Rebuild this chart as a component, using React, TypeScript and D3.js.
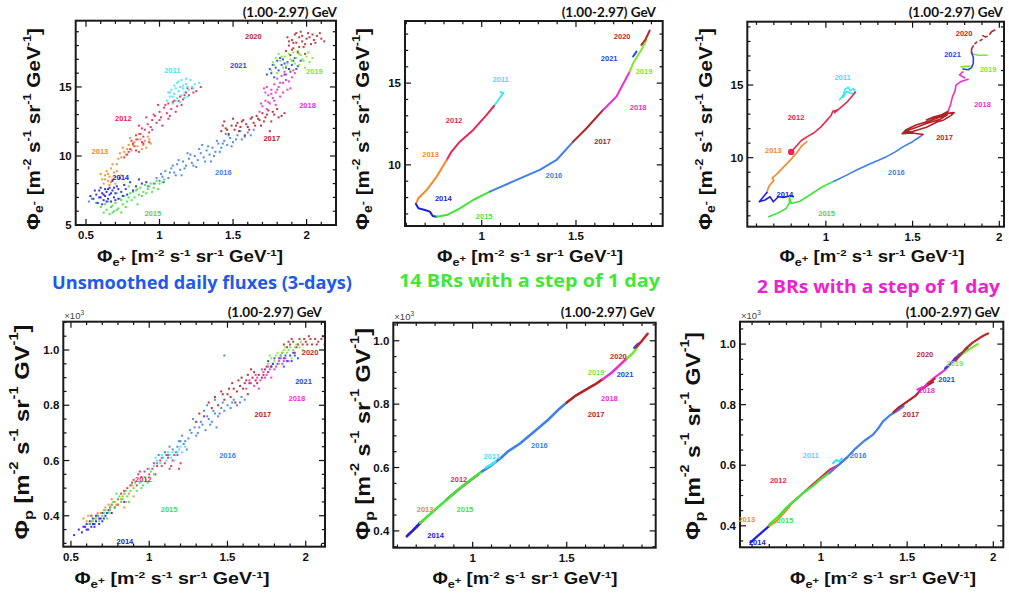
import React from 'react';
import * as d3 from 'd3';

type Pt = [number, number];

const YEARS = ['2011', '2012', '2013', '2014', '2015', '2016', '2017', '2018', '2019', '2020', '2021'];
const YEAR_COLORS: Record<string, string> = {
  '2011': '#3ee6f2',
  '2012': '#e8264f',
  '2013': '#f5892b',
  '2014': '#2020e0',
  '2015': '#3fe53a',
  '2016': '#3f80ea',
  '2017': '#b22128',
  '2018': '#ec2fd2',
  '2019': '#7ce82c',
  '2020': '#b52b30',
  '2021': '#2547e0',
};

const ENERGY_TITLE = '(1.00-2.97) GeV';
const CAPTIONS = ['Unsmoothed daily fluxes (3-days)', '14 BRs with a step of 1 day', '2 BRs with a step of 1 day'];
const CAPTION_COLORS = ['#2159ec', '#3fe83a', '#ec22cc'];

// ---------- tick values ----------
const xTicksA = [0.5, 1, 1.5, 2];
const xTicksB = [1, 1.5];
const xTicksC = [1, 1.5, 2];
const yTicksEm1 = [5, 10, 15];
const yTicksEm = [10, 15];
const yTicksP = [0.4, 0.6, 0.8, 1.0];

// ---------- Panel 1: e- vs e+ daily scatter ----------
const scatterEm: Record<string, Pt[]> = {
  '2013': [[0.62,8.0],[0.63,8.6],[0.64,8.9],[0.65,8.2],[0.66,8.5],[0.67,9.1],[0.68,8.3],[0.69,8.8],[0.70,8.0],[0.71,9.4],[0.72,9.8],[0.73,10.2],[0.75,10.6],[0.77,10.1],[0.79,10.8],[0.81,10.4],[0.83,11.0],[0.85,10.7],[0.87,11.2],[0.88,10.5],[0.90,11.1],[0.92,11.4],[0.86,11.6],[0.94,10.9],[0.60,8.7],[0.66,7.9],[0.74,8.6],[0.80,11.3],[0.61,8.3],[0.68,9.4],
    [0.63,8.3],[0.65,8.7],[0.67,8.1],[0.70,8.5],[0.71,8.9],[0.74,9.9],[0.76,10.3],[0.78,10.5],[0.82,10.8],[0.84,11.2],[0.89,10.8],[0.91,10.6],[0.93,11.2]],
  '2012': [[0.78,10.1],[0.80,10.5],[0.82,10.9],[0.84,10.4],[0.85,11.2],[0.87,11.6],[0.88,11.0],[0.90,11.9],[0.92,12.3],[0.93,11.7],[0.95,12.6],[0.96,13.0],[0.98,12.4],[1.00,13.2],[1.01,12.8],[1.03,13.5],[1.05,13.1],[1.06,13.8],[1.08,13.4],[1.10,14.0],[1.12,13.6],[1.14,14.3],[1.16,14.1],[1.18,14.6],[1.20,14.4],[1.22,14.9],[1.25,14.7],[0.91,12.8],[0.99,13.7],[0.86,12.2],[1.02,12.2],[1.07,12.9],[0.76,9.9],[0.79,10.3],[0.83,10.7],[0.86,10.3],[0.89,10.9],[0.93,11.0],
    [0.81,11.1],[0.84,11.5],[0.89,11.4],[0.94,12.1],[0.97,12.9],[1.00,12.6],[1.04,13.7],[1.06,12.7],[1.09,13.9],[1.11,13.2],[1.13,14.0],[1.15,13.7],[1.17,14.4],[1.19,14.9],[1.23,14.6],[1.28,15.0],[0.88,12.0],[0.95,11.9]],
  '2011': [[1.05,14.0],[1.07,14.3],[1.08,14.8],[1.10,15.1],[1.10,14.5],[1.12,14.2],[1.12,15.3],[1.13,14.7],[1.14,15.0],[1.15,14.4],[1.15,15.5],[1.16,14.9],[1.17,14.6],[1.18,15.2],[1.19,14.3],[1.20,14.8],[1.21,15.5],[1.22,15.0],[1.24,15.2],[1.27,15.3],[1.09,13.8],[1.11,14.0],[1.14,13.9],[1.06,14.6],[1.18,15.6],
    [1.07,14.6],[1.09,14.3],[1.11,14.9],[1.13,15.4],[1.16,15.1],[1.19,15.0],[1.23,14.9],[1.17,14.2]],
  '2015': [[0.62,5.9],[0.64,6.1],[0.66,5.8],[0.67,6.3],[0.69,6.0],[0.70,6.6],[0.72,6.2],[0.73,6.9],[0.75,6.5],[0.76,7.1],[0.78,6.7],[0.80,7.3],[0.81,6.8],[0.83,7.0],[0.84,7.5],[0.86,7.2],[0.87,7.7],[0.89,7.4],[0.90,7.9],[0.92,7.6],[0.94,8.0],[0.96,7.7],[0.98,8.2],[1.00,8.0],[1.03,8.3],[0.71,7.3],[0.79,7.8],[0.85,6.5],[0.65,6.7],[0.74,5.9],[0.60,6.3],
    [0.63,6.5],[0.68,6.4],[0.71,6.1],[0.74,6.8],[0.77,6.3],[0.79,7.0],[0.82,7.4],[0.85,7.6],[0.88,7.1],[0.91,7.3],[0.93,7.8],[0.95,7.4],[0.97,8.0],[0.99,7.6],[1.02,8.1],[0.68,5.9]],
  '2014': [[0.55,6.9],[0.57,7.2],[0.58,6.6],[0.59,7.5],[0.60,7.0],[0.61,7.3],[0.62,6.8],[0.63,7.6],[0.63,7.1],[0.64,7.4],[0.65,6.9],[0.66,7.7],[0.66,7.2],[0.67,6.7],[0.68,7.5],[0.69,7.0],[0.70,7.3],[0.71,7.8],[0.72,6.9],[0.74,7.4],[0.76,7.9],[0.78,7.2],[0.80,8.1],[0.84,7.8],[0.88,8.0],[0.61,6.5],[0.68,8.2],[0.73,8.4],
    [0.56,7.5],[0.59,7.0],[0.60,7.7],[0.62,7.2],[0.64,6.7],[0.65,7.6],[0.67,7.3],[0.69,7.7],[0.70,6.8],[0.72,7.6],[0.75,7.1],[0.77,7.6],[0.82,7.5],[0.86,8.3],[0.91,8.1],[0.53,7.1]],
  '2016': [[0.52,6.7],[0.54,6.9],[0.57,6.6],[1.00,8.2],[1.02,8.5],[1.04,8.9],[1.06,8.4],[1.08,9.1],[1.10,8.8],[1.12,9.4],[1.14,9.0],[1.16,9.6],[1.18,9.3],[1.20,9.8],[1.22,9.5],[1.24,10.0],[1.26,9.7],[1.28,10.2],[1.30,9.9],[1.32,10.4],[1.34,10.1],[1.36,10.6],[1.38,10.3],[1.40,10.9],[1.42,10.6],[1.44,11.1],[1.46,10.8],[1.48,11.3],[1.50,11.0],[1.53,11.5],[1.56,11.2],[1.60,11.7],[1.64,11.9],[1.19,10.2],[1.25,9.2],[1.35,9.6],[1.29,10.8],[1.15,8.6],[1.45,11.6],[1.55,11.8],
    [1.01,8.7],[1.03,8.1],[1.07,8.8],[1.09,9.3],[1.11,8.6],[1.13,9.7],[1.17,9.1],[1.21,10.1],[1.23,9.3],[1.27,10.5],[1.31,9.6],[1.33,10.7],[1.37,10.0],[1.39,11.1],[1.41,10.3],[1.43,10.9],[1.47,11.5],[1.49,10.7],[1.52,11.2],[1.58,11.4],[0.96,8.0],[0.92,7.8],[1.62,11.5],[0.98,8.4]],
  '2017': [[1.42,11.8],[1.45,12.0],[1.47,11.6],[1.49,12.2],[1.51,11.9],[1.53,12.4],[1.55,12.1],[1.57,12.6],[1.59,12.3],[1.61,11.9],[1.62,12.7],[1.64,12.4],[1.66,12.9],[1.68,12.6],[1.70,13.1],[1.72,12.8],[1.74,13.3],[1.76,12.5],[1.78,13.0],[1.80,13.4],[1.83,12.9],[1.50,12.7],[1.58,11.5],[1.69,12.2],[1.44,12.5],[1.75,11.8],
    [1.43,12.2],[1.46,11.9],[1.52,12.2],[1.56,12.5],[1.60,12.1],[1.63,12.8],[1.65,12.2],[1.67,12.7],[1.71,12.5],[1.73,13.0],[1.77,13.2],[1.81,12.8],[1.85,13.1],[1.54,11.8]],
  '2018': [[1.68,13.2],[1.70,13.6],[1.72,14.0],[1.73,13.4],[1.74,14.4],[1.75,13.8],[1.76,14.8],[1.77,14.2],[1.78,15.2],[1.79,14.6],[1.80,15.6],[1.81,15.0],[1.82,14.3],[1.83,15.8],[1.84,15.3],[1.85,16.1],[1.86,15.5],[1.87,14.8],[1.88,16.3],[1.90,15.7],[1.92,16.0],[1.71,14.9],[1.79,13.7],[1.89,14.9],
    [1.69,13.8],[1.72,14.6],[1.74,13.9],[1.76,14.5],[1.78,14.0],[1.80,14.8],[1.82,15.3],[1.84,14.6],[1.86,15.9],[1.88,15.4],[1.91,16.2],[1.73,15.0]],
  '2021': [[1.73,15.9],[1.75,16.3],[1.77,16.6],[1.78,15.7],[1.80,16.9],[1.81,16.2],[1.83,16.6],[1.84,17.0],[1.85,15.9],[1.86,16.4],[1.87,16.8],[1.89,16.1],[1.90,16.6],[1.92,17.1],[1.94,16.5],[1.96,16.9],
    [1.76,16.0],[1.79,16.4],[1.82,17.1],[1.85,16.7],[1.88,16.3],[1.91,16.9],[1.93,16.3]],
  '2019': [[1.76,16.2],[1.78,16.6],[1.80,16.0],[1.82,16.9],[1.84,16.4],[1.85,17.2],[1.87,16.7],[1.88,17.4],[1.90,16.9],[1.91,17.5],[1.93,17.1],[1.95,16.6],[1.96,17.3],[1.98,16.9],[2.00,17.2],[2.02,16.8],[1.81,17.4],[1.89,16.2],[1.94,17.6],[1.99,16.4],
    [1.77,16.8],[1.79,17.1],[1.83,17.2],[1.86,16.5],[1.89,17.0],[1.92,16.7],[1.95,17.4],[1.97,17.0],[2.01,17.5],[2.04,17.1]],
  '2020': [[1.86,17.6],[1.88,18.0],[1.89,17.3],[1.90,18.4],[1.91,17.8],[1.92,18.8],[1.93,18.2],[1.94,17.5],[1.95,18.6],[1.96,19.0],[1.97,18.3],[1.98,17.9],[2.00,18.5],[2.01,18.9],[2.03,18.1],[2.05,18.4],[2.07,18.7],[2.10,18.5],[2.12,18.3],[1.87,18.6],[1.99,17.4],
    [1.88,18.3],[1.91,18.2],[1.93,18.9],[1.95,17.9],[1.97,18.7],[1.99,18.1],[2.02,18.6],[2.04,18.8],[2.06,18.2],[2.09,18.9],[1.90,17.7]],
};

// ---------- Panel 2: e- vs e+ 14 BRs ----------
const linesEm14: Record<string, Pt[][]> = {
  '2011': [[[1.10,14.45],[1.115,14.4],[1.09,14.0],[1.065,13.6]]],
  '2012': [[[1.065,13.6],[1.026,13.06],[0.955,12.14],[0.884,11.42],[0.84,10.81],[0.814,10.3]]],
  '2013': [[[0.814,10.3],[0.761,9.28],[0.708,8.46],[0.664,7.96],[0.651,7.61]]],
  '2014': [[[0.651,7.61],[0.664,7.34],[0.699,7.24],[0.725,7.14],[0.74,6.87],[0.761,6.83]]],
  '2015': [[[0.761,6.83],[0.814,6.93],[0.884,7.34],[0.955,7.85],[1.043,8.36]]],
  '2016': [[[1.043,8.36],[1.185,9.08],[1.308,9.69],[1.397,10.3],[1.485,11.42]]],
  '2017': [[[1.485,11.42],[1.556,12.24],[1.644,13.36]]],
  '2018': [[[1.644,13.36],[1.715,14.18],[1.785,15.71]]],
  '2019': [[[1.785,15.71],[1.803,16.22],[1.847,17.04],[1.874,17.65]]],
  '2020': [[[1.847,17.34],[1.87,17.7],[1.891,18.22]]],
  '2021': [[[1.803,16.63],[1.821,16.93]]],
};

// ---------- Panel 3: e- vs e+ 2 BRs ----------
const linesEm2: Record<string, Pt[][]> = {
  '2011': [[[1.08,14.0],[1.10,14.3],[1.11,14.7],[1.13,14.85],[1.14,14.6],[1.16,14.75],[1.17,14.5],[1.15,14.4],[1.12,14.55],[1.10,14.15]]],
  '2012': [[[1.17,14.5],[1.12,13.8],[1.08,13.4],[1.05,13.1],[1.07,13.3],[1.04,13.2],[1.03,12.9],[1.00,12.5],[0.97,12.1],[0.93,11.7],[0.90,11.5],[0.86,11.2],[0.83,10.8],[0.80,10.4]]],
  '2013': [[[0.89,11.1],[0.86,10.8],[0.83,10.3],[0.80,9.9],[0.76,9.4],[0.72,8.9],[0.69,8.6],[0.70,8.45],[0.67,8.0],[0.66,7.6]]],
  '2014': [[[0.66,7.6],[0.616,6.97],[0.649,7.09],[0.678,7.31],[0.697,6.97],[0.726,7.31],[0.755,7.27],[0.793,7.36],[0.812,7.32]]],
  '2015': [[[0.67,5.94],[0.72,6.17],[0.77,6.5],[0.79,6.9],[0.79,7.3],[0.80,6.85],[0.85,7.0],[0.91,7.45],[0.98,8.0],[1.05,8.4]]],
  '2016': [[[1.05,8.4],[1.12,8.8],[1.177,9.15],[1.24,9.5],[1.292,9.77],[1.30,9.8],[1.35,10.07],[1.40,10.4],[1.446,10.76],[1.50,11.1],[1.542,11.44],[1.56,11.6]]],
  '2017': [[[1.56,11.6],[1.50,11.7],[1.44,11.65],[1.46,11.9],[1.52,12.25],[1.60,12.55],[1.66,12.8],[1.70,12.95],[1.66,12.65],[1.58,12.35],[1.50,12.0],[1.45,11.75],[1.50,11.8],[1.58,12.1],[1.64,12.45],[1.68,12.6],[1.72,12.9],[1.74,13.1],[1.70,13.05],[1.62,12.8],[1.58,12.6],[1.66,12.9],[1.705,13.2]]],
  '2018': [[[1.705,13.2],[1.72,13.7],[1.73,14.2],[1.745,14.6],[1.75,15.0],[1.78,15.25],[1.82,15.4]],[[1.80,15.5],[1.77,15.7],[1.79,15.9]]],
  '2019': [[[1.78,16.25],[1.83,16.3]],[[1.84,17.15],[1.88,17.05],[1.93,17.05]]],
  '2021': [[[1.84,17.25],[1.85,16.9],[1.85,16.5],[1.84,16.2],[1.82,16.05],[1.79,16.1]]],
  '2020': [[[1.84,17.2],[1.84,17.5],[1.85,17.7]],[[1.86,17.85],[1.87,17.95]],[[1.89,18.05],[1.90,18.15]],[[1.905,18.4],[1.92,18.3],[1.93,18.35]],[[1.945,18.5],[1.955,18.67],[1.974,18.79]]],
};

// ---------- Panel 4: p vs e+ daily scatter (x10^3) ----------
const scatterP: Record<string, Pt[]> = {
  '2014': [[0.52,0.33],[0.55,0.35],[0.58,0.36],[0.60,0.37],[0.61,0.35],[0.62,0.38],[0.63,0.36],[0.64,0.39],[0.65,0.37],[0.66,0.38],[0.67,0.40],[0.68,0.37],[0.69,0.39],[0.70,0.41],[0.72,0.40],[0.74,0.42],[0.76,0.41],[0.78,0.43],[0.80,0.44],[0.84,0.45],[0.63,0.40],[0.70,0.38],[0.57,0.34],
    [0.59,0.36],[0.62,0.37],[0.64,0.37],[0.66,0.40],[0.68,0.39],[0.71,0.39],[0.73,0.41],[0.75,0.43],[0.60,0.35],[0.65,0.36]],
  '2013': [[0.58,0.39],[0.60,0.38],[0.63,0.40],[0.66,0.39],[0.69,0.41],[0.72,0.43],[0.75,0.42],[0.78,0.45],[0.80,0.44],[0.82,0.46],[0.85,0.45],[0.87,0.48],[0.90,0.47],[0.76,0.46],[0.84,0.43],
    [0.61,0.40],[0.64,0.38],[0.67,0.41],[0.71,0.42],[0.74,0.44],[0.79,0.44],[0.83,0.47]],
  '2012': [[0.76,0.44],[0.80,0.46],[0.84,0.49],[0.88,0.51],[0.90,0.53],[0.92,0.51],[0.95,0.54],[0.97,0.56],[1.00,0.55],[1.02,0.57],[1.05,0.58],[1.07,0.60],[1.10,0.59],[1.12,0.61],[1.15,0.60],[1.18,0.62],[1.20,0.59],[0.93,0.55],[1.04,0.55],[1.13,0.57],
    [0.82,0.48],[0.86,0.50],[0.89,0.52],[0.94,0.56],[0.99,0.57],[1.03,0.59],[1.08,0.58],[1.11,0.62],[1.16,0.62],[1.14,0.58],[1.19,0.57]],
  '2015': [[0.62,0.37],[0.65,0.39],[0.68,0.38],[0.70,0.40],[0.72,0.42],[0.74,0.41],[0.76,0.44],[0.78,0.43],[0.80,0.46],[0.82,0.45],[0.84,0.48],[0.86,0.47],[0.88,0.49],[0.90,0.50],[0.92,0.49],[0.94,0.52],[0.96,0.51],[0.98,0.53],[1.00,0.54],[1.03,0.55],[0.79,0.48],[0.87,0.45],[0.73,0.39],
    [0.63,0.38],[0.67,0.40],[0.71,0.41],[0.75,0.43],[0.77,0.45],[0.81,0.47],[0.83,0.46],[0.85,0.49],[0.89,0.51],[0.91,0.52],[0.95,0.50],[0.97,0.54],[0.99,0.52],[1.01,0.56]],
  '2011': [[1.00,0.57],[1.03,0.58],[1.05,0.60],[1.07,0.59],[1.09,0.61],[1.11,0.60],[1.13,0.62],[1.15,0.63],[1.17,0.62],[1.19,0.64],[1.21,0.63],[1.23,0.65],[1.10,0.63],[1.16,0.60],
    [1.04,0.61],[1.08,0.62],[1.12,0.63],[1.14,0.61],[1.18,0.63],[1.20,0.65]],
  '2016': [[1.05,0.59],[1.08,0.61],[1.12,0.62],[1.15,0.64],[1.18,0.65],[1.20,0.67],[1.22,0.66],[1.25,0.68],[1.27,0.70],[1.30,0.69],[1.32,0.72],[1.34,0.73],[1.36,0.71],[1.38,0.75],[1.40,0.74],[1.42,0.77],[1.44,0.76],[1.46,0.79],[1.48,0.78],[1.50,0.80],[1.53,0.81],[1.56,0.80],[1.59,0.83],[1.61,0.82],[1.48,0.98],[1.28,0.75],[1.35,0.78],[1.24,0.64],[1.43,0.72],
    [1.06,0.62],[1.10,0.63],[1.13,0.65],[1.17,0.63],[1.19,0.67],[1.21,0.69],[1.23,0.67],[1.26,0.71],[1.29,0.72],[1.31,0.70],[1.33,0.74],[1.37,0.76],[1.39,0.73],[1.41,0.78],[1.45,0.77],[1.47,0.81],[1.52,0.79],[1.54,0.82],[1.58,0.81],[1.37,0.80],[1.42,0.82]],
  '2017': [[1.30,0.74],[1.35,0.76],[1.40,0.79],[1.44,0.80],[1.48,0.82],[1.50,0.84],[1.52,0.83],[1.54,0.86],[1.56,0.85],[1.58,0.87],[1.60,0.86],[1.62,0.89],[1.64,0.88],[1.66,0.90],[1.68,0.89],[1.70,0.91],[1.72,0.90],[1.74,0.93],[1.76,0.92],[1.78,0.94],[1.55,0.81],[1.63,0.84],[1.46,0.85],
    [1.32,0.77],[1.38,0.81],[1.42,0.83],[1.47,0.84],[1.51,0.86],[1.53,0.88],[1.57,0.89],[1.61,0.88],[1.63,0.91],[1.67,0.92],[1.69,0.88],[1.73,0.91],[1.75,0.94],[1.59,0.90],[1.65,0.93]],
  '2018': [[1.62,0.86],[1.65,0.88],[1.67,0.87],[1.69,0.90],[1.71,0.89],[1.73,0.92],[1.75,0.91],[1.77,0.93],[1.79,0.95],[1.81,0.94],[1.83,0.96],[1.85,0.95],[1.87,0.97],[1.89,0.96],[1.70,0.86],[1.78,0.90],
    [1.64,0.89],[1.68,0.91],[1.72,0.93],[1.74,0.90],[1.76,0.94],[1.80,0.93],[1.84,0.97],[1.86,0.96]],
  '2020': [[1.85,0.99],[1.88,1.01],[1.90,1.02],[1.92,1.03],[1.94,1.01],[1.96,1.04],[1.98,1.02],[2.00,1.03],[2.02,1.05],[2.04,1.02],[2.06,1.04],[2.08,1.03],[2.10,1.04],[2.12,1.02],[1.93,0.99],
    [1.86,1.02],[1.89,1.03],[1.91,1.04],[1.95,1.02],[1.99,1.04],[2.01,1.02],[2.03,1.04],[2.07,1.02],[2.11,1.05]],
  '2021': [[1.76,0.96],[1.78,0.94],[1.80,0.97],[1.82,0.95],[1.84,0.98],[1.86,0.97],[1.88,0.96],[1.90,0.98],[1.92,0.99],[1.95,0.97],[1.86,0.94],
    [1.79,0.95],[1.83,0.97],[1.87,0.98],[1.91,0.96],[1.93,0.98]],
  '2019': [[1.76,0.95],[1.78,0.97],[1.80,0.96],[1.82,0.99],[1.84,0.98],[1.86,1.00],[1.88,0.99],[1.90,1.01],[1.92,1.00],[1.94,1.02],[1.96,1.01],[1.98,1.00],[1.83,0.95],[1.91,0.97],
    [1.77,0.98],[1.81,0.98],[1.85,0.99],[1.87,1.01],[1.89,1.00],[1.93,1.01],[1.97,1.03]],
};

// ---------- Panel 5: p vs e+ 14 BRs ----------
const linesP14: Record<string, Pt[][]> = {
  '2013': [[[0.66,0.39],[0.70,0.41],[0.74,0.435]]],
  '2014': [[[0.65,0.383],[0.68,0.40],[0.72,0.425]]],
  '2012': [[[0.86,0.498],[0.92,0.528],[0.98,0.556],[1.03,0.578]]],
  '2015': [[[0.72,0.425],[0.80,0.467],[0.88,0.508],[0.96,0.548],[1.05,0.588]]],
  '2016': [[[1.05,0.588],[1.10,0.607],[1.15,0.63],[1.19,0.652],[1.25,0.675],[1.32,0.71],[1.40,0.75],[1.46,0.785],[1.50,0.805]]],
  '2011': [[[1.07,0.60],[1.10,0.61],[1.12,0.618]]],
  '2017': [[[1.50,0.805],[1.55,0.828],[1.60,0.845],[1.65,0.862],[1.69,0.878]]],
  '2018': [[[1.69,0.878],[1.74,0.90],[1.79,0.928],[1.82,0.945]]],
  '2019': [[[1.82,0.945],[1.85,0.96],[1.87,0.975]]],
  '2021': [[[1.86,0.978],[1.88,0.99]]],
  '2020': [[[1.87,0.98],[1.90,1.0],[1.93,1.022]]],
};

// ---------- Panel 6: p vs e+ 2 BRs ----------
const linesP2: Record<string, Pt[][]> = {
  '2014': [[[0.59,0.345],[0.62,0.36],[0.65,0.375],[0.68,0.39],[0.70,0.40]]],
  '2013': [[[0.70,0.40],[0.74,0.415],[0.78,0.44],[0.82,0.465]]],
  '2012': [[[0.82,0.47],[0.88,0.50],[0.94,0.53],[1.00,0.56],[1.05,0.585],[1.10,0.60],[1.15,0.625]]],
  '2015': [[[0.70,0.405],[0.75,0.43],[0.80,0.46],[0.85,0.485],[0.90,0.51],[0.95,0.53],[1.00,0.555],[1.05,0.575]]],
  '2011': [[[1.07,0.607],[1.09,0.617],[1.11,0.612],[1.12,0.622]]],
  '2016': [[[1.05,0.575],[1.10,0.60],[1.15,0.625],[1.20,0.655],[1.25,0.68],[1.30,0.70],[1.33,0.72],[1.36,0.745],[1.40,0.765],[1.45,0.782],[1.48,0.795]]],
  '2017': [[[1.42,0.775],[1.45,0.79],[1.50,0.81],[1.55,0.83],[1.58,0.85],[1.62,0.865],[1.65,0.875]]],
  '2018': [[[1.56,0.85],[1.60,0.86],[1.66,0.89],[1.72,0.915],[1.76,0.94],[1.78,0.955]]],
  '2021': [[[1.72,0.92],[1.76,0.94],[1.80,0.965],[1.83,0.975],[1.85,0.985]]],
  '2019': [[[1.80,0.96],[1.84,0.975],[1.88,0.99],[1.91,1.0]]],
  '2020': [[[1.62,0.87],[1.66,0.885]],[[1.78,0.945],[1.84,0.985],[1.88,1.005],[1.92,1.02],[1.95,1.03],[1.97,1.035]]],
};

// ---------- year label anchors (data coords) ----------
const labelsP1: Record<string, Pt> = { '2020':[1.638,18.62],'2011':[1.087,16.19],'2021':[1.536,16.55],'2019':[2.053,16.14],'2018':[2.006,13.64],'2012':[0.754,12.74],'2017':[1.763,11.26],'2013':[0.595,10.31],'2016':[1.434,8.81],'2014':[0.736,8.45],'2015':[0.954,5.84] };
const labelsP2: Record<string, Pt> = { '2020':[1.745,17.85],'2021':[1.676,16.49],'2019':[1.861,15.71],'2011':[1.10,15.2],'2018':[1.83,13.53],'2012':[0.854,12.71],'2017':[1.641,11.42],'2013':[0.729,10.65],'2016':[1.383,9.34],'2014':[0.796,7.96],'2015':[1.013,6.83] };
const labelsP3: Record<string, Pt> = { '2020':[1.797,18.56],'2021':[1.73,17.07],'2019':[1.935,16.08],'2011':[1.096,15.53],'2018':[1.903,13.67],'2012':[0.828,12.78],'2017':[1.684,11.38],'2013':[0.697,10.48],'2016':[1.407,8.97],'2014':[0.764,7.5],'2015':[1.004,6.17] };
const labelsP4: Record<string, Pt> = { '2020':[2.028,0.992],'2021':[1.986,0.886],'2018':[1.943,0.826],'2017':[1.726,0.768],'2016':[1.50,0.618],'2012':[0.963,0.533],'2015':[1.127,0.421],'2014':[0.845,0.306] };
const labelsP5: Record<string, Pt> = { '2020':[1.775,0.949],'2019':[1.656,0.899],'2021':[1.81,0.895],'2018':[1.727,0.818],'2017':[1.656,0.766],'2016':[1.355,0.669],'2011':[1.101,0.636],'2012':[0.927,0.561],'2013':[0.747,0.466],'2015':[0.959,0.466],'2014':[0.803,0.385] };
const labelsP6: Record<string, Pt> = { '2020':[1.603,0.966],'2019':[1.777,0.936],'2021':[1.729,0.884],'2018':[1.613,0.846],'2017':[1.522,0.768],'2011':[0.94,0.631],'2016':[1.216,0.631],'2012':[0.752,0.549],'2013':[0.569,0.422],'2015':[0.791,0.419],'2014':[0.63,0.345] };

// ---------- layout ----------
type Seg = [string, number, number];
const xTitleSegs: Seg[] = [['Φ',0,1],['e',0.28,0.68],['+',0.02,0.6],[' [m',0,1],['-2',-0.38,0.62],[' s',0,1],['-1',-0.38,0.62],[' sr',0,1],['-1',-0.38,0.62],[' GeV',0,1],['-1',-0.38,0.62],[']',0,1]];
const yTitleEmSegs: Seg[] = [['Φ',0,1],['e',0.28,0.68],['-',0.02,0.6],[' [m',0,1],['-2',-0.38,0.62],[' s',0,1],['-1',-0.38,0.62],[' sr',0,1],['-1',-0.38,0.62],[' GeV',0,1],['-1',-0.38,0.62],[']',0,1]];
const yTitlePSegs: Seg[] = [['Φ',0,1],['p',0.28,0.68],[' [m',0,1],['-2',-0.38,0.62],[' s',0,1],['-1',-0.38,0.62],[' sr',0,1],['-1',-0.38,0.62],[' GV',0,1],['-1',-0.38,0.62],[']',0,1]];

interface PanelCfg {
  id: string;
  box: [number, number, number, number];
  xDomain: [number, number];
  yDomain: [number, number];
  xTicks: number[];
  yTicks: number[];
  xMinor: number;
  yMinor: number;
  yFmt: (v: number) => string;
  kind: 'scatter' | 'line';
  scatter?: Record<string, Pt[]>;
  lines?: Record<string, Pt[][]>;
  lineWidth?: number;
  order: string[];
  labels: Record<string, Pt>;
  title: [number, number];
  xTitle: [number, number, number];
  yTitle: [number, number, number];
  ySegs: Seg[];
  yFont: number;
  exp: boolean;
}

const fmtX = d3.format('~g');
const fmtInt = d3.format('d');
const fmtP = d3.format('.1f');

const panels: PanelCfg[] = [
  { id: 'p1', box: [75.7, 20.7, 336, 225], xDomain: [0.43, 2.2], yDomain: [5, 19.8], xTicks: xTicksA, yTicks: yTicksEm1, xMinor: 0.1, yMinor: 1, yFmt: fmtInt,
    kind: 'scatter', scatter: scatterEm, order: ['2013','2012','2011','2015','2014','2016','2017','2018','2021','2019','2020'], labels: labelsP1,
    title: [337, 17], xTitle: [190, 262, 186], yTitle: [33, 129, 202], ySegs: yTitleEmSegs, yFont: 19, exp: false },
  { id: 'p2', box: [405, 21, 662.7, 226], xDomain: [0.593, 1.96], yDomain: [6.26, 18.8], xTicks: xTicksB, yTicks: yTicksEm, xMinor: 0.1, yMinor: 1, yFmt: fmtInt,
    kind: 'line', lines: linesEm14, lineWidth: 2, order: YEARS, labels: labelsP2,
    title: [656, 17], xTitle: [530, 262, 186], yTitle: [362, 129, 202], ySegs: yTitleEmSegs, yFont: 19, exp: false },
  { id: 'p3', box: [747.3, 21.7, 1004, 226.7], xDomain: [0.547, 2.027], yDomain: [5.25, 19.36], xTicks: xTicksC, yTicks: yTicksEm, xMinor: 0.1, yMinor: 1, yFmt: fmtInt,
    kind: 'line', lines: linesEm2, lineWidth: 1.6, order: ['2011','2013','2012','2014','2015','2016','2017','2018','2019','2021','2020'], labels: labelsP3,
    title: [1003, 17], xTitle: [872, 262, 185], yTitle: [705, 129, 202], ySegs: yTitleEmSegs, yFont: 19, exp: false },
  { id: 'p4', box: [63.3, 321.7, 325, 546.7], xDomain: [0.451, 2.123], yDomain: [0.288, 1.1025], xTicks: xTicksA, yTicks: yTicksP, xMinor: 0.1, yMinor: 0.05, yFmt: fmtP,
    kind: 'scatter', scatter: scatterP, order: ['2014','2013','2012','2015','2011','2016','2017','2018','2020','2021','2019'], labels: labelsP4,
    title: [322, 317], xTitle: [172, 584, 195], yTitle: [22, 432, 215], ySegs: yTitlePSegs, yFont: 20, exp: true },
  { id: 'p5', box: [393.3, 322.7, 655.7, 547.7], xDomain: [0.578, 1.973], yDomain: [0.347, 1.057], xTicks: xTicksB, yTicks: yTicksP, xMinor: 0.1, yMinor: 0.05, yFmt: fmtP,
    kind: 'line', lines: linesP14, lineWidth: 2.6, order: ['2013','2014','2012','2015','2016','2011','2017','2018','2019','2021','2020'], labels: labelsP5,
    title: [655, 317], xTitle: [525, 584, 185], yTitle: [363, 434, 212], ySegs: yTitlePSegs, yFont: 20, exp: true },
  { id: 'p6', box: [740, 321.7, 1003.3, 547.3], xDomain: [0.53, 2.058], yDomain: [0.329, 1.074], xTicks: xTicksC, yTicks: yTicksP, xMinor: 0.1, yMinor: 0.05, yFmt: fmtP,
    kind: 'line', lines: linesP2, lineWidth: 2.2, order: ['2014','2013','2012','2015','2011','2016','2017','2018','2021','2019','2020'], labels: labelsP6,
    title: [1000, 317], xTitle: [883, 584, 186], yTitle: [693, 436, 208], ySegs: yTitlePSegs, yFont: 20, exp: true },
];

const CAPTION_POS: [number, number, number][] = [[52, 289, 300], [399, 287, 261], [757, 293, 243]];

const SANS = '"Liberation Sans", Arial, Helvetica, sans-serif';

function rich(segs: Seg[], fs: number) {
  let cur = 0;
  return segs.map(([t, off, sc], i) => {
    const target = off * fs;
    const dy = target - cur;
    cur = target;
    return (
      <tspan key={i} dy={dy} fontSize={fs * sc} style={{ whiteSpace: 'pre' }}>
        {t}
      </tspan>
    );
  });
}

function minorTicks(dom: [number, number], step: number): number[] {
  const k0 = Math.ceil(dom[0] / step - 1e-6);
  const k1 = Math.floor(dom[1] / step + 1e-6);
  return d3.range(k0, k1 + 1).map((k) => +(k * step).toFixed(6));
}

function Panel({ cfg }: { cfg: PanelCfg }) {
  const [L, T, R, B] = cfg.box;
  const x = d3.scaleLinear().domain(cfg.xDomain).range([L, R]);
  const y = d3.scaleLinear().domain(cfg.yDomain).range([B, T]);
  const line = d3.line<Pt>().x((d) => x(d[0])).y((d) => y(d[1])).curve(d3.curveLinear);
  const MAJ = 6;
  const MIN = 3.2;
  const xMin = minorTicks(cfg.xDomain, cfg.xMinor);
  const yMin = minorTicks(cfg.yDomain, cfg.yMinor);
  const isMajor = (v: number, arr: number[]) => arr.some((a) => Math.abs(a - v) < 1e-6);
  const tickColor = '#111';
  const clipId = `clip-${cfg.id}`;

  return (
    <g>
      <defs>
        <clipPath id={clipId}>
          <rect x={L} y={T} width={R - L} height={B - T} />
        </clipPath>
      </defs>
      <g clipPath={`url(#${clipId})`}>
        {cfg.kind === 'scatter' &&
          cfg.order.map((yr) =>
            (cfg.scatter![yr] || []).map((p, i) => (
              <rect key={yr + i} x={x(p[0]) - 1} y={y(p[1]) - 1} width={2} height={2} fill={YEAR_COLORS[yr]} opacity={0.9} />
            ))
          )}
        {cfg.kind === 'line' &&
          cfg.order.map((yr) =>
            (cfg.lines![yr] || []).map((seg, i) => (
              <path key={yr + i} d={line(seg) || ''} fill="none" stroke={YEAR_COLORS[yr]} strokeWidth={cfg.lineWidth} strokeLinejoin="round" strokeLinecap="round" />
            ))
          )}
        {cfg.id === 'p3' && <circle cx={x(0.80)} cy={y(10.4)} r={3.2} fill={YEAR_COLORS['2012']} />}
      </g>
      <g stroke={tickColor} strokeWidth={1.2}>
        {xMin.map((v) => {
          const len = isMajor(v, cfg.xTicks) ? MAJ : MIN;
          const px = x(v);
          return (
            <g key={'x' + v}>
              <line x1={px} x2={px} y1={B} y2={B - len} />
              <line x1={px} x2={px} y1={T} y2={T + len} />
            </g>
          );
        })}
        {yMin.map((v) => {
          const len = isMajor(v, cfg.yTicks) ? MAJ : MIN;
          const py = y(v);
          return (
            <g key={'y' + v}>
              <line x1={L} x2={L + len} y1={py} y2={py} />
              <line x1={R} x2={R - len} y1={py} y2={py} />
            </g>
          );
        })}
      </g>
      <rect x={L} y={T} width={R - L} height={B - T} fill="none" stroke="#1a1a1a" strokeWidth={2} />
      <g fontFamily={SANS} fontWeight="bold" fontSize={11.5} fill="#111">
        {cfg.xTicks.map((v) => (
          <text key={'xl' + v} x={x(v)} y={B + 14} textAnchor="middle">
            {fmtX(v)}
          </text>
        ))}
        {cfg.yTicks.map((v) => (
          <text key={'yl' + v} x={L - 4} y={y(v)} textAnchor="end" dominantBaseline="central">
            {cfg.yFmt(v)}
          </text>
        ))}
      </g>
      <g fontFamily={SANS} fontWeight="bold" fontSize={7.5}>
        {Object.entries(cfg.labels).map(([yr, p]) => (
          <text key={'lab' + yr} x={x(p[0])} y={y(p[1])} textAnchor="middle" dominantBaseline="central" fill={YEAR_COLORS[yr]}>
            {yr}
          </text>
        ))}
      </g>
      {cfg.exp && (
        <text x={L + 1} y={T - 3} fontFamily={SANS} fontSize={9.5} fill="#444">
          ×10<tspan dy={-3.5} fontSize={6.5}>3</tspan>
        </text>
      )}
      <text x={cfg.title[0]} y={cfg.title[1]} textAnchor="end" fontFamily="Lato, 'Open Sans', sans-serif" fontWeight="bold" fontSize={13.5} fill="#111">
        {ENERGY_TITLE}
      </text>
      <text x={cfg.xTitle[0]} y={cfg.xTitle[1]} textAnchor="middle" fontFamily={SANS} fontWeight="bold" fontSize={16} fill="#111"
        textLength={cfg.xTitle[2]} lengthAdjust="spacingAndGlyphs">
        {rich(xTitleSegs, 16)}
      </text>
      <text transform={`translate(${cfg.yTitle[0]},${cfg.yTitle[1]}) rotate(-90)`} textAnchor="middle" dominantBaseline="central" fontFamily={SANS}
        fontWeight="bold" fontSize={cfg.yFont} fill="#111" textLength={cfg.yTitle[2]} lengthAdjust="spacingAndGlyphs">
        {rich(cfg.ySegs, cfg.yFont)}
      </text>
    </g>
  );
}

export default function App() {
  return (
    <svg width={1009} height={601} viewBox="0 0 1009 601" style={{ position: 'absolute', left: 0, top: 0, background: '#fff' }}>
      <rect x={0} y={0} width={1009} height={601} fill="#fff" />
      {panels.map((p) => (
        <Panel key={p.id} cfg={p} />
      ))}
      {CAPTIONS.map((c, i) => (
        <text key={c} x={CAPTION_POS[i][0]} y={CAPTION_POS[i][1]} fontFamily="'Open Sans', Lato, sans-serif" fontWeight="bold" fontSize={18}
          fill={CAPTION_COLORS[i]} textLength={CAPTION_POS[i][2]} lengthAdjust="spacingAndGlyphs">
          {c}
        </text>
      ))}
    </svg>
  );
}
